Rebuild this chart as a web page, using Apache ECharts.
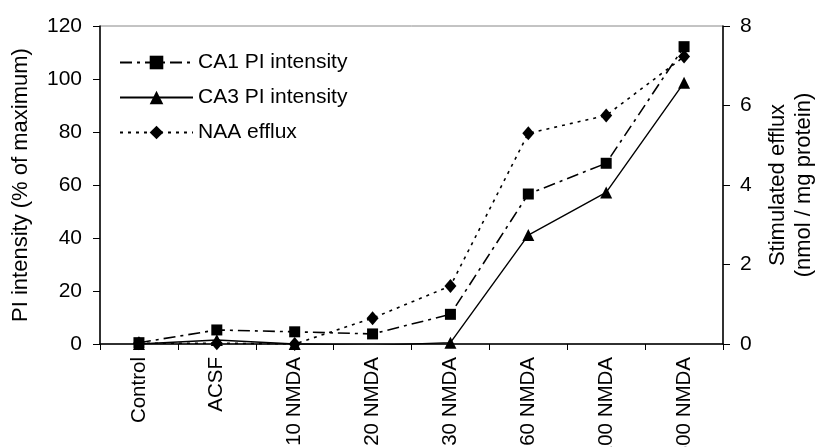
<!DOCTYPE html>
<html>
<head>
<meta charset="utf-8">
<script src="https://cdn.jsdelivr.net/npm/echarts@6/dist/echarts.min.js"></script>
<style>
  html, body { margin: 0; padding: 0; background: #fff; }
  #chart { width: 816px; height: 447px; }
</style>
</head>
<body>
<div id="chart"></div>
<script>
// values
var categories = ['Control', 'ACSF', '10 NMDA', '20 NMDA', '30 NMDA', '60 NMDA', '100 NMDA', '600 NMDA']
var ca1Intensity = [0.5, 5.3, 4.6, 3.8, 11.2, 56.6, 68.2, 112.2]
var ca3Intensity = [0, 1.5, 0, -0.5, 0.5, 41.1, 57.2, 98.6]
var naaEfflux = [0.02, 0.02, 0.0, 0.65, 1.46, 5.3, 5.75, 7.23]

var font = 'Liberation Sans, Arial, sans-serif'
var dom = echarts.init(document.getElementById('chart'))

var option = {
  animation: false,
  textStyle: { fontFamily: font, color: '#000' },
  grid: {
    left: 100,
    right: 93,
    top: 26,
    bottom: 103,
    outerBoundsMode: 'none',
    containLabel: false,
    show: true,
    borderColor: '#888',
    borderWidth: 1
  },
  legend: {
    orient: 'vertical',
    left: 114,
    top: 47,
    itemWidth: 73,
    itemHeight: 17,
    itemGap: 14,
    textStyle: { fontSize: 21, color: '#000', fontFamily: font },
    data: ['CA1 PI intensity', 'CA3 PI intensity', 'NAA efflux']
  },
  xAxis: {
    type: 'category',
    data: categories,
    boundaryGap: true,
    axisLine: { lineStyle: { color: '#000', width: 1.5 } },
    axisTick: { show: true, length: 6, lineStyle: { color: '#000' } },
    axisLabel: { rotate: 90, fontSize: 20.5, color: '#000', margin: 13, fontFamily: font }
  },
  yAxis: [
    {
      type: 'value',
      min: 0,
      max: 120,
      interval: 20,
      name: 'PI intensity (% of maximum)',
      nameLocation: 'middle',
      nameGap: 68,
      nameTextStyle: { fontSize: 22, color: '#000', fontFamily: font },
      axisLine: { show: true, lineStyle: { color: '#000', width: 1.5 } },
      axisTick: { show: true, length: 7, lineStyle: { color: '#000' } },
      axisLabel: { fontSize: 21, color: '#000', margin: 18, fontFamily: font },
      splitLine: { show: false }
    },
    {
      type: 'value',
      min: 0,
      max: 8,
      interval: 2,
      position: 'right',
      name: 'Stimulated efflux\n(nmol / mg protein)',
      nameLocation: 'middle',
      nameGap: 42,
      nameRotate: 90,
      nameTextStyle: { fontSize: 22, color: '#000', lineHeight: 26, fontFamily: font },
      axisLine: { show: true, lineStyle: { color: '#000', width: 1.5 } },
      axisTick: { show: true, length: 7, lineStyle: { color: '#000' } },
      axisLabel: { fontSize: 21, color: '#000', margin: 17, fontFamily: font },
      splitLine: { show: false }
    }
  ],
  series: [
    {
      name: 'CA1 PI intensity',
      type: 'line',
      yAxisIndex: 0,
      data: ca1Intensity,
      symbol: 'rect',
      symbolSize: 11,
      itemStyle: { color: '#000' },
      lineStyle: { color: '#000', width: 1.6, type: [12, 5, 3, 5] }
    },
    {
      name: 'CA3 PI intensity',
      type: 'line',
      yAxisIndex: 0,
      data: ca3Intensity,
      symbol: 'triangle',
      symbolSize: 12,
      itemStyle: { color: '#000' },
      lineStyle: { color: '#000', width: 1.4, type: 'solid' }
    },
    {
      name: 'NAA efflux',
      type: 'line',
      yAxisIndex: 1,
      data: naaEfflux,
      symbol: 'diamond',
      symbolSize: [12, 14],
      itemStyle: { color: '#000' },
      lineStyle: { color: '#000', width: 1.6, type: [3, 5] }
    }
  ]
}

dom.setOption(option)
</script>
</body>
</html>
